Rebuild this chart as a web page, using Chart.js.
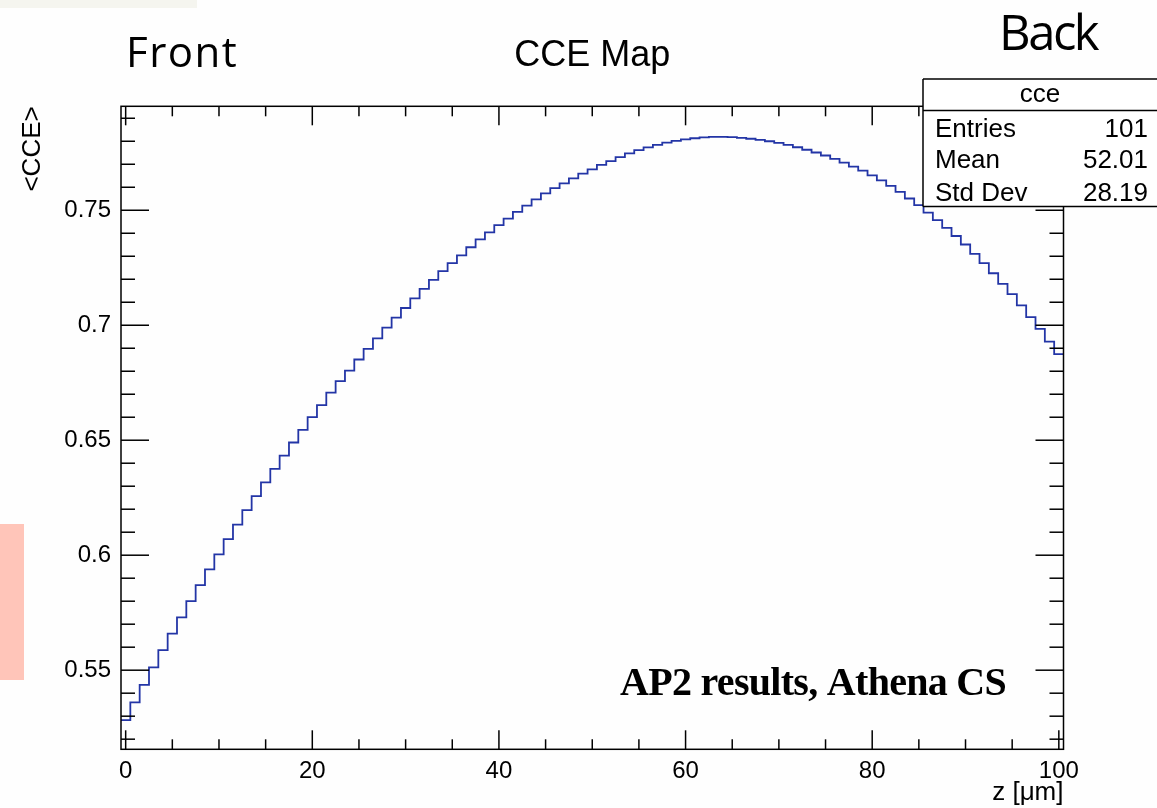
<!DOCTYPE html>
<html>
<head>
<meta charset="utf-8">
<title>CCE Map</title>
<script src="https://cdn.jsdelivr.net/npm/chart.js@4.4.1/dist/chart.umd.min.js"></script>
<style>
  html, body { margin: 0; padding: 0; background: #ffffff; }
  #wrap { position: relative; width: 1157px; height: 808px; overflow: hidden; background: #fefefe; }
  #strip { position: absolute; left: 0; top: 0; width: 197px; height: 8px; background: #f5f5ef; }
  #tab { position: absolute; left: 0; top: 524px; width: 24px; height: 156px; background: #ffc5b9; }
  #c { position: absolute; left: 0; top: 0; }
</style>
</head>
<body>
<div id="wrap">
  <div id="strip"></div>
  <div id="tab"></div>
  <canvas id="c" width="1157" height="808"></canvas>
</div>
<script>
// z bin centres [um] (bin width 1)
const zBins = [
  0, 1, 2, 3, 4, 5, 6, 7, 8, 9,
  10, 11, 12, 13, 14, 15, 16, 17, 18, 19,
  20, 21, 22, 23, 24, 25, 26, 27, 28, 29,
  30, 31, 32, 33, 34, 35, 36, 37, 38, 39,
  40, 41, 42, 43, 44, 45, 46, 47, 48, 49,
  50, 51, 52, 53, 54, 55, 56, 57, 58, 59,
  60, 61, 62, 63, 64, 65, 66, 67, 68, 69,
  70, 71, 72, 73, 74, 75, 76, 77, 78, 79,
  80, 81, 82, 83, 84, 85, 86, 87, 88, 89,
  90, 91, 92, 93, 94, 95, 96, 97, 98, 99,
  100
];

// mean charge collection efficiency per z bin
const cceMean = [
  0.5283, 0.5360, 0.5436, 0.5512, 0.5587, 0.5659, 0.5730, 0.5800, 0.5870, 0.5938,
  0.6004, 0.6070, 0.6133, 0.6196, 0.6257, 0.6317, 0.6375, 0.6433, 0.6490, 0.6545,
  0.6600, 0.6653, 0.6707, 0.6757, 0.6803, 0.6851, 0.6897, 0.6943, 0.6990, 0.7033,
  0.7075, 0.7117, 0.7158, 0.7197, 0.7235, 0.7270, 0.7304, 0.7339, 0.7373, 0.7404,
  0.7435, 0.7464, 0.7493, 0.7520, 0.7547, 0.7573, 0.7596, 0.7617, 0.7639, 0.7659,
  0.7678, 0.7697, 0.7714, 0.7731, 0.7747, 0.7761, 0.7773, 0.7784, 0.7794, 0.7802,
  0.7808, 0.7813, 0.7817, 0.7819, 0.7819, 0.7818, 0.7815, 0.7811, 0.7806, 0.7800,
  0.7793, 0.7784, 0.7774, 0.7763, 0.7751, 0.7738, 0.7723, 0.7707, 0.7690, 0.7672,
  0.7652, 0.7630, 0.7606, 0.7580, 0.7551, 0.7522, 0.7490, 0.7457, 0.7423, 0.7388,
  0.7351, 0.7310, 0.7270, 0.7226, 0.7180, 0.7135, 0.7086, 0.7035, 0.6984, 0.6929,
  0.6874
];

const binWidth = 1;

// axis tick labels
const xTickValues = [0, 20, 40, 60, 80, 100];
const xTickLabels = ['0', '20', '40', '60', '80', '100'];
const yTickValues = [0.55, 0.6, 0.65, 0.7, 0.75];
const yTickLabels = ['0.55', '0.6', '0.65', '0.7', '0.75'];

// statistics box
const statNames = ['Entries', 'Mean', 'Std Dev'];
const statValues = ['101', '52.01', '28.19'];

// histogram outline: each bin is held from its low edge to the next edge
const stepPoints = zBins.map((z, i) => ({ x: z - binWidth / 2, y: cceMean[i] }));
stepPoints.push({ x: zBins[zBins.length - 1] + binWidth / 2, y: cceMean[cceMean.length - 1] });

const SANS = '"Liberation Sans", Arial, Helvetica, sans-serif';

function seg(ctx, x1, y1, x2, y2) {
  ctx.beginPath();
  ctx.moveTo(x1, y1);
  ctx.lineTo(x2, y2);
  ctx.stroke();
}

// ROOT-like frame with inward ticks on all four sides
const frameTicks = {
  id: 'frameTicks',
  afterDatasetsDraw(chart) {
    const { ctx, chartArea: a, scales: { x, y } } = chart;
    ctx.save();
    ctx.strokeStyle = '#000';
    ctx.lineWidth = 1.5;
    ctx.lineCap = 'butt';
    ctx.strokeRect(a.left, a.top, a.right - a.left, a.bottom - a.top);
    for (let v = 0; v <= 100; v += 5) {
      const px = x.getPixelForValue(v);
      const len = v % 20 === 0 ? 19 : 10;
      seg(ctx, px, a.bottom, px, a.bottom - len);
      seg(ctx, px, a.top, px, a.top + len);
    }
    for (let k = 52; k <= 79; k++) {
      const py = y.getPixelForValue(k / 100);
      const len = k % 5 === 0 ? 28 : 14;
      seg(ctx, a.left, py, a.left + len, py);
      seg(ctx, a.right, py, a.right - len, py);
    }
    ctx.restore();
  },
  afterDraw(chart) {
    const { ctx } = chart;
    ctx.save();
    // statistics box
    const bx = 923, by = 79, bw = 240, bh = 127.5, hdr = 31.5;
    ctx.fillStyle = '#ffffff';
    ctx.fillRect(bx, by, bw, bh);
    ctx.strokeStyle = '#000';
    ctx.lineWidth = 1.5;
    seg(ctx, bx, by, bx + bw, by);
    seg(ctx, bx, by, bx, by + bh);
    seg(ctx, bx, by + bh, bx + bw, by + bh);
    seg(ctx, bx, by + hdr, bx + bw, by + hdr);
    ctx.fillStyle = '#000';
    ctx.font = '26px ' + SANS;
    ctx.textBaseline = 'alphabetic';
    ctx.textAlign = 'center';
    ctx.fillText('cce', 1040, 102);
    const rows = [136.7, 168.3, 200.5];
    statNames.forEach((name, i) => {
      ctx.textAlign = 'left';
      ctx.fillText(name, 935, rows[i]);
      ctx.textAlign = 'right';
      ctx.fillText(statValues[i], 1148, rows[i]);
    });

    // side labels
    ctx.textAlign = 'left';
    ctx.font = '42px "Open Sans", "Noto Sans", sans-serif';
    ctx.letterSpacing = '1.5px';
    ctx.fillText('Front', 126, 67);
    ctx.font = '49px "Open Sans", "Noto Sans", sans-serif';
    ctx.letterSpacing = '-2.5px';
    ctx.fillText('Back', 999, 50);

    // annotation
    ctx.font = 'bold 40px "Liberation Serif", "DejaVu Serif", serif';
    ctx.letterSpacing = '-0.7px';
    ctx.fillText('AP2 results, Athena CS', 620, 695);
    ctx.restore();
  }
};

new Chart(document.getElementById('c'), {
  type: 'line',
  data: {
    datasets: [{
      label: 'cce',
      data: stepPoints,
      stepped: true,
      borderColor: '#2335a6',
      borderWidth: 1.8,
      pointRadius: 0,
      fill: false,
      tension: 0
    }]
  },
  options: {
    responsive: false,
    animation: false,
    devicePixelRatio: 1,
    layout: { padding: { left: 0, top: 0, right: 93.5, bottom: 0 } },
    plugins: {
      legend: { display: false },
      tooltip: { enabled: false },
      title: {
        display: true,
        text: 'CCE Map',
        fullSize: false,
        color: '#000',
        font: { family: SANS, size: 36, weight: 'normal', lineHeight: 1.2 },
        padding: { top: 34, bottom: 29.1 }
      }
    },
    scales: {
      x: {
        type: 'linear',
        min: -0.5,
        max: 100.5,
        afterFit(scale) { scale.height = 58.7; },
        afterBuildTicks(scale) { scale.ticks = xTickValues.map(v => ({ value: v })); },
        grid: { display: false, drawTicks: false },
        border: { display: false },
        ticks: {
          autoSkip: false,
          maxRotation: 0,
          padding: 8,
          color: '#000',
          font: { family: SANS, size: 24 },
          callback: (v) => xTickLabels[xTickValues.indexOf(v)] ?? ''
        },
        title: {
          display: true,
          text: 'z [\u03bcm]',
          align: 'end',
          color: '#000',
          font: { family: SANS, size: 26 },
          padding: { top: 0, bottom: 0 }
        }
      },
      y: {
        type: 'linear',
        min: 0.5156,
        max: 0.7952,
        afterFit(scale) { scale.width = 121; },
        afterBuildTicks(scale) { scale.ticks = yTickValues.map(v => ({ value: v })); },
        grid: { display: false, drawTicks: false },
        border: { display: false },
        ticks: {
          autoSkip: false,
          padding: 10,
          color: '#000',
          font: { family: SANS, size: 24 },
          callback: (v) => {
            const i = yTickValues.findIndex(t => Math.abs(t - v) < 1e-9);
            return i >= 0 ? yTickLabels[i] : '';
          }
        },
        title: {
          display: true,
          text: '<CCE>',
          align: 'end',
          color: '#000',
          font: { family: SANS, size: 26 },
          padding: { top: 17, bottom: 0 }
        }
      }
    }
  },
  plugins: [frameTicks]
});
</script>
</body>
</html>
